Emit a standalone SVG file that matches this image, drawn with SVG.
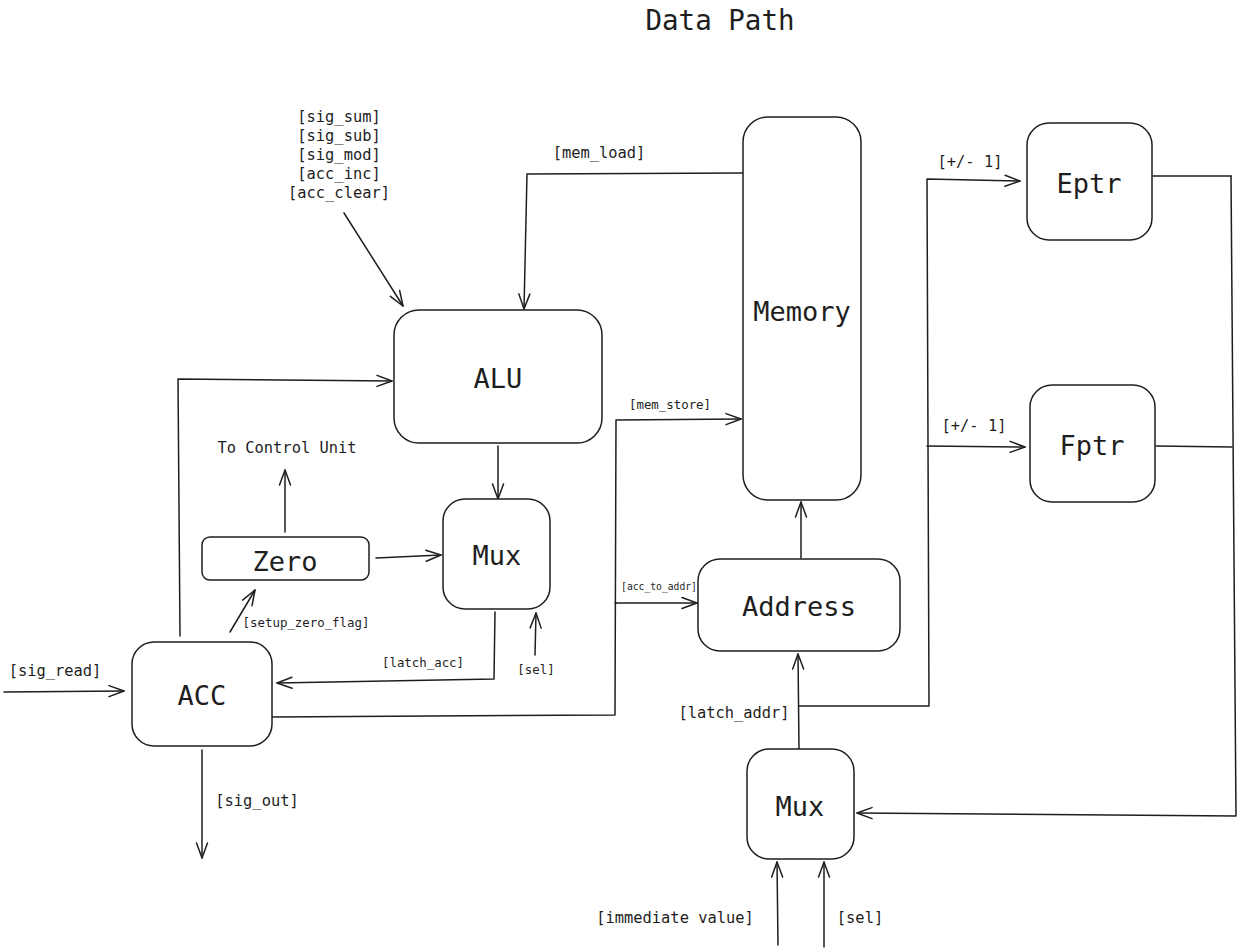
<svg xmlns="http://www.w3.org/2000/svg" width="1237" height="951" viewBox="0 0 1237 951">
<defs>
<marker id="arr" viewBox="-16 -8 18 16" refX="0" refY="0" markerWidth="18" markerHeight="16" markerUnits="userSpaceOnUse" orient="auto" overflow="visible">
<path d="M-15,-5.5 L0,0 L-15,5.5" fill="none" stroke="#1e1e1e" stroke-width="1.5" stroke-linecap="round" stroke-linejoin="round"/>
</marker>
<style>
.box{fill:#fff;stroke:#1e1e1e;stroke-width:1.5}
.w{fill:none;stroke:#1e1e1e;stroke-width:1.5;stroke-linejoin:round;stroke-linecap:round}
.a{marker-end:url(#arr)}
text{font-family:"DejaVu Sans Mono","Liberation Mono",monospace;fill:#1e1e1e;text-anchor:middle;dominant-baseline:central}
.big{font-size:27px}
.lb{font-size:15.4px}
.sm{font-size:12.4px}
.xs{font-size:9.7px}
</style>
</defs>
<rect width="1237" height="951" fill="#fff"/>
<text x="720" y="20" style="font-size:27.5px">Data Path</text>

<g id="connectors">
<path class="w a" d="M344,213 L403,306"/>
<path class="w a" d="M743,173 L527,174 L524,309"/>
<path class="w a" d="M180,636 L178,379 L392,381"/>
<path class="w a" d="M498,446 L498,499"/>
<path class="w a" d="M285,532 L285,470"/>
<path class="w a" d="M376,558 L441,555"/>
<path class="w a" d="M230,632 L255,590"/>
<path class="w a" d="M495,612 L494,679 L277,683"/>
<path class="w a" d="M535,655 L536,613"/>
<path class="w a" d="M4,692 L124,691"/>
<path class="w a" d="M272,717 L615,715 L616,420 L741,419"/>
<path class="w a" d="M615,603 L697,603"/>
<path class="w a" d="M202,750 L202,858"/>
<path class="w a" d="M801,558 L801,502"/>
<path class="w a" d="M799,749 L798,654"/>
<path class="w a" d="M799,706 L929,706 L927,179 L1020,181"/>
<path class="w a" d="M927,446 L1025,447"/>
<path class="w" d="M1153,176 L1231,176"/>
<path class="w" d="M1156,446 L1232,447"/>
<path class="w a" d="M1231,176 L1236,816 L857,813"/>
<path class="w a" d="M778,945 L777,862"/>
<path class="w a" d="M824,947 L824,862"/>
</g>

<g id="labels">
<text class="lb" x="339" y="117">[sig_sum]</text>
<text class="lb" x="339" y="136">[sig_sub]</text>
<text class="lb" x="339" y="155">[sig_mod]</text>
<text class="lb" x="339" y="174">[acc_inc]</text>
<text class="lb" x="339" y="193">[acc_clear]</text>
<text class="lb" x="599" y="153">[mem_load]</text>
<text class="sm" x="670" y="404">[mem_store]</text>
<text class="lb" x="287" y="448">To Control Unit</text>
<text class="xs" x="659" y="586">[acc_to_addr]</text>
<text class="sm" x="306" y="622">[setup_zero_flag]</text>
<text class="sm" x="423" y="662">[latch_acc]</text>
<text class="sm" x="536" y="669">[sel]</text>
<text class="lb" x="55" y="671">[sig_read]</text>
<text class="lb" x="734" y="713">[latch_addr]</text>
<text class="lb" x="257" y="801">[sig_out]</text>
<text class="lb" x="675" y="918">[immediate value]</text>
<text class="lb" x="860" y="918">[sel]</text>
<text class="lb" x="970" y="162">[+/- 1]</text>
<text class="lb" x="974" y="426">[+/- 1]</text>
</g>

<g id="alu"><rect class="box" x="394" y="310" width="208" height="133" rx="25"/><text class="big" x="498" y="378">ALU</text></g>
<g id="memory"><rect class="box" x="743" y="117" width="118" height="383" rx="25"/><text class="big" x="802" y="311">Memory</text></g>
<g id="eptr"><rect class="box" x="1027" y="123" width="125" height="117" rx="22"/><text class="big" x="1089" y="183">Eptr</text></g>
<g id="fptr"><rect class="box" x="1030" y="385" width="125" height="117" rx="22"/><text class="big" x="1092" y="445">Fptr</text></g>
<g id="zero"><rect class="box" x="202" y="537" width="167" height="43" rx="8"/><text class="big" x="285" y="561">Zero</text></g>
<g id="mux1"><rect class="box" x="443" y="499" width="107" height="110" rx="22"/><text class="big" x="497" y="555">Mux</text></g>
<g id="address"><rect class="box" x="698" y="559" width="202" height="92" rx="22"/><text class="big" x="799" y="606">Address</text></g>
<g id="acc"><rect class="box" x="132" y="642" width="140" height="104" rx="22"/><text class="big" x="202" y="695">ACC</text></g>
<g id="mux2"><rect class="box" x="747" y="749" width="107" height="110" rx="22"/><text class="big" x="800" y="806">Mux</text></g>
</svg>
